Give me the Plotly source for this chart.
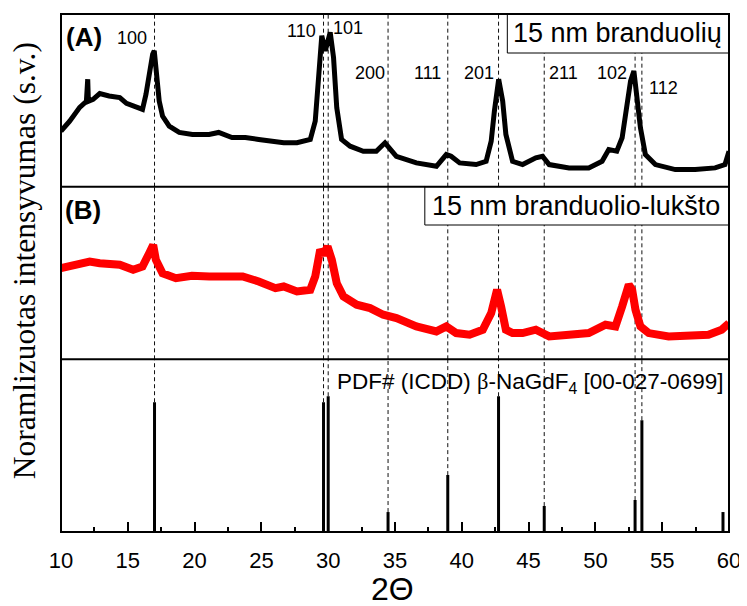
import plotly.graph_objects as go
from plotly.subplots import make_subplots

# ---- data ----
a_theta = [10.0, 10.65, 11.4, 11.9, 12.0, 12.05, 12.4, 12.9, 13.6, 14.4, 14.9, 15.6, 16.1, 16.36, 16.6,
           16.86, 16.98, 17.15, 17.35, 17.6, 18.1, 18.85, 19.84, 21.08, 21.8, 22.8, 23.8, 24.8, 25.8,
           26.67, 27.66, 28.66, 29.03, 29.28, 29.52, 29.78, 30.15, 30.4, 30.64, 31.0, 31.64, 32.63,
           33.6, 34.25, 34.6, 35.1, 36.6, 38.1, 38.84, 39.2, 39.84, 41.07, 41.82, 42.2, 42.44, 42.76,
           43.06, 43.3, 43.8, 44.55, 45.54, 46.04, 46.54, 48.03, 49.5, 50.5, 51.0, 51.6, 52.0, 52.38,
           52.63, 52.88, 53.12, 53.37, 53.74, 54.49, 55.98, 57.47, 58.96, 59.7, 60.0]
a_int = [55.3, 65.3, 79, 85, 107, 85, 87, 92.7, 90.3, 88.7, 83, 79, 77, 92, 112,
         132, 135.3, 115.3, 85.3, 70.3, 60.3, 54, 52, 52, 54, 49, 49, 47, 45.3,
         43.7, 43.7, 47, 65.3, 112, 150.3, 135.3, 153.7, 128.7, 78.7, 47, 40.3, 35.3,
         35.3, 43.7, 38.7, 30.3, 23.7, 20.3, 32, 30.3, 23.7, 22, 25.3, 45.3, 75.3, 107,
         85.3, 52, 25.3, 22, 28.7, 30.3, 22, 18.7, 18.7, 25.3, 37, 35.3, 48.7, 78.7,
         105.3, 115.3, 92, 58.7, 32, 22, 17, 17, 18.7, 22, 35.3]

b_theta = [10.0, 10.65, 11.4, 12.15, 12.9, 13.6, 14.4, 15.4, 16.1, 16.6, 16.9, 17.1, 17.6, 18.6, 19.8,
           21.1, 22.3, 23.6, 24.8, 26.05, 26.67, 27.66, 28.66, 29.03, 29.4, 29.65, 29.95, 30.27, 30.64,
           31.14, 32.13, 33.13, 34.12, 35.11, 36.6, 38.1, 38.84, 39.58, 40.58, 41.57, 42.2, 42.64,
           42.94, 43.3, 43.8, 44.55, 45.54, 46.54, 48.03, 49.5, 50.76, 51.5, 52.0, 52.5, 52.75, 53.0,
           53.37, 53.99, 55.48, 56.97, 58.46, 59.45, 60.0]
b_int = [91.3, 93, 96.3, 98, 96.3, 96.3, 94.7, 89.7, 93, 106.3, 114.7, 99.7, 86.3, 81.3, 83.7,
         83, 82.3, 83, 78, 71.3, 73, 68, 69.7, 83, 109.7, 104.7, 113, 99.7, 76.3,
         63, 54.7, 51.3, 44.7, 41.3, 33, 28, 33, 26.3, 24.7, 29.7, 46.3, 69.7,
         53, 29.7, 26.3, 26.3, 29.7, 23, 24.7, 26.3, 34.7, 33, 53, 74.7, 69.7, 49.7,
         33, 26.3, 23, 23, 24.7, 29.7, 36.3]

ref_theta = [17.0, 29.65, 30.0, 34.48, 38.95, 42.75, 46.17, 52.97, 53.48, 59.55]
ref_int = [95.6, 95.6, 100, 14.7, 41.9, 100, 19.1, 23.5, 82.4, 14.7]
ref_marked = [True, True, True, True, True, True, True, True, True, False]

hkl_labels = ["100", "110", "101", "200", "111", "201", "211", "102", "112"]
hkl_x = [15.34, 28.01, 31.51, 33.15, 37.4, 41.27, 47.6, 51.25, 55.1]
hkl_y = [148, 155.3, 158, 113.5, 113.5, 113.5, 113.5, 113.5, 98.7]

x_ticks = [10, 15, 20, 25, 30, 35, 40, 45, 50, 55, 60]

A_MAX, B_MAX, C_MAX = 172, 173, 127.2

# page body has an 8 px margin; figure is sized so that it fits the 747x606 window
W, H = 739, 598
ML, MR, MT, MB = 53, 14, 6, 74
PW, PH = W - ML - MR, H - MT - MB


def px(xp):
    return (xp - 8 - ML) / PW


def py(yp):
    return (H - MB - (yp - 8)) / PH


fig = make_subplots(rows=3, cols=1, shared_xaxes=True, vertical_spacing=0)

dash_style = dict(color="#111111", width=1, dash="4px,3px")


def vsegs(xs, y0s, y1s):
    xx, yy = [], []
    for x, a, b in zip(xs, y0s, y1s):
        xx += [x, x, None]
        yy += [a, b, None]
    return xx, yy


marked = [t for t, m in zip(ref_theta, ref_marked) if m]
marked_h = [h for h, m in zip(ref_int, ref_marked) if m]

xx, yy = vsegs(marked, [0] * len(marked), [A_MAX] * len(marked))
fig.add_trace(go.Scatter(x=xx, y=yy, mode="lines", line=dash_style, hoverinfo="skip"), row=1, col=1)
xx, yy = vsegs(marked, [0] * len(marked), [B_MAX] * len(marked))
fig.add_trace(go.Scatter(x=xx, y=yy, mode="lines", line=dash_style, hoverinfo="skip"), row=2, col=1)
xx, yy = vsegs(marked, marked_h, [C_MAX] * len(marked))
fig.add_trace(go.Scatter(x=xx, y=yy, mode="lines", line=dash_style, hoverinfo="skip"), row=3, col=1)

fig.add_trace(go.Scatter(x=a_theta, y=a_int, mode="lines",
                         line=dict(color="black", width=5)), row=1, col=1)
fig.add_trace(go.Scatter(x=b_theta, y=b_int, mode="lines",
                         line=dict(color="#ff0000", width=8)), row=2, col=1)

xx, yy = vsegs(ref_theta, [0] * len(ref_theta), ref_int)
fig.add_trace(go.Scatter(x=xx, y=yy, mode="lines", line=dict(color="black", width=3)), row=3, col=1)

fig.update_layout(
    width=W, height=H,
    margin=dict(l=ML, r=MR, t=MT, b=MB),
    paper_bgcolor="white", plot_bgcolor="white",
    showlegend=False,
    font=dict(family="Liberation Sans, Arial, sans-serif", color="black"),
)

for i in (1, 2, 3):
    fig.update_xaxes(range=[10, 60], showgrid=False, zeroline=False, showline=False, row=i, col=1)
fig.update_xaxes(showticklabels=False, ticks="", row=1, col=1)
fig.update_xaxes(showticklabels=False, ticks="", row=2, col=1)
fig.update_xaxes(tickmode="array", tickvals=x_ticks, ticktext=[str(v) for v in x_ticks],
                 ticks="inside", ticklen=10, tickwidth=2, tickcolor="black",
                 tickfont=dict(size=22, color="black"), ticklabelstandoff=13,
                 minor=dict(ticks="inside", ticklen=5, tickwidth=2, tickcolor="black",
                            tickmode="linear", tick0=12.5, dtick=5),
                 row=3, col=1)

fig.update_yaxes(range=[0, A_MAX], showticklabels=False, showgrid=False, zeroline=False, row=1, col=1)
fig.update_yaxes(range=[0, B_MAX], showticklabels=False, showgrid=False, zeroline=False, row=2, col=1)
fig.update_yaxes(range=[0, C_MAX], showticklabels=False, showgrid=False, zeroline=False, row=3, col=1)

shapes = [
    dict(type="rect", xref="paper", yref="paper", x0=px(510), x1=1, y0=py(53), y1=1,
         line=dict(color="black", width=1), fillcolor="white", layer="above"),
    dict(type="rect", xref="paper", yref="paper", x0=px(427), x1=1, y0=py(225), y1=2 / 3,
         line=dict(color="black", width=1), fillcolor="white", layer="above"),
    dict(type="line", xref="paper", yref="paper", x0=0, x1=1, y0=1 / 3, y1=1 / 3,
         line=dict(color="black", width=2), layer="above"),
    dict(type="line", xref="paper", yref="paper", x0=0, x1=1, y0=2 / 3, y1=2 / 3,
         line=dict(color="black", width=2), layer="above"),
    dict(type="rect", xref="paper", yref="paper", x0=0, x1=1, y0=0, y1=1,
         line=dict(color="black", width=2), layer="above"),
]
fig.update_layout(shapes=shapes)

ann = []
for lab, x, y in zip(hkl_labels, hkl_x, hkl_y):
    ann.append(dict(text=lab, x=x, y=y, xref="x", yref="y", showarrow=False,
                    font=dict(size=18, color="black"), xanchor="center", yanchor="middle"))

ann += [
    dict(text="<b>(A)</b>", x=px(84), y=py(37), xref="paper", yref="paper",
         showarrow=False, font=dict(size=26), xanchor="center", yanchor="middle"),
    dict(text="<b>(B)</b>", x=px(83), y=py(210), xref="paper", yref="paper",
         showarrow=False, font=dict(size=26), xanchor="center", yanchor="middle"),
    dict(text="15 nm branduolių", x=px(621), y=py(33.5), xref="paper", yref="paper",
         showarrow=False, font=dict(size=27), xanchor="center", yanchor="middle"),
    dict(text="15 nm branduolio-lukšto", x=px(579.5), y=py(205.5), xref="paper", yref="paper",
         showarrow=False, font=dict(size=27), xanchor="center", yanchor="middle"),
    dict(text="PDF# (ICDD) <span style='font-family:Liberation Serif'>β</span>-NaGdF<sub>4</sub> [00-027-0699]",
         x=px(337), y=py(383), xref="paper", yref="paper",
         showarrow=False, font=dict(size=22.5), xanchor="left", yanchor="middle"),
    dict(text="2Θ", x=px(394), y=py(589), xref="paper", yref="paper",
         showarrow=False, font=dict(size=32), xanchor="center", yanchor="middle"),
    dict(text="Noramlizuotas intensyvumas (s.v.)", x=px(24), y=py(261),
         xref="paper", yref="paper", showarrow=False, textangle=-90,
         font=dict(size=31.5, family="Liberation Serif, Times New Roman, serif"),
         xanchor="center", yanchor="middle"),
]
fig.update_layout(annotations=ann)

fig.write_html("out.html")
